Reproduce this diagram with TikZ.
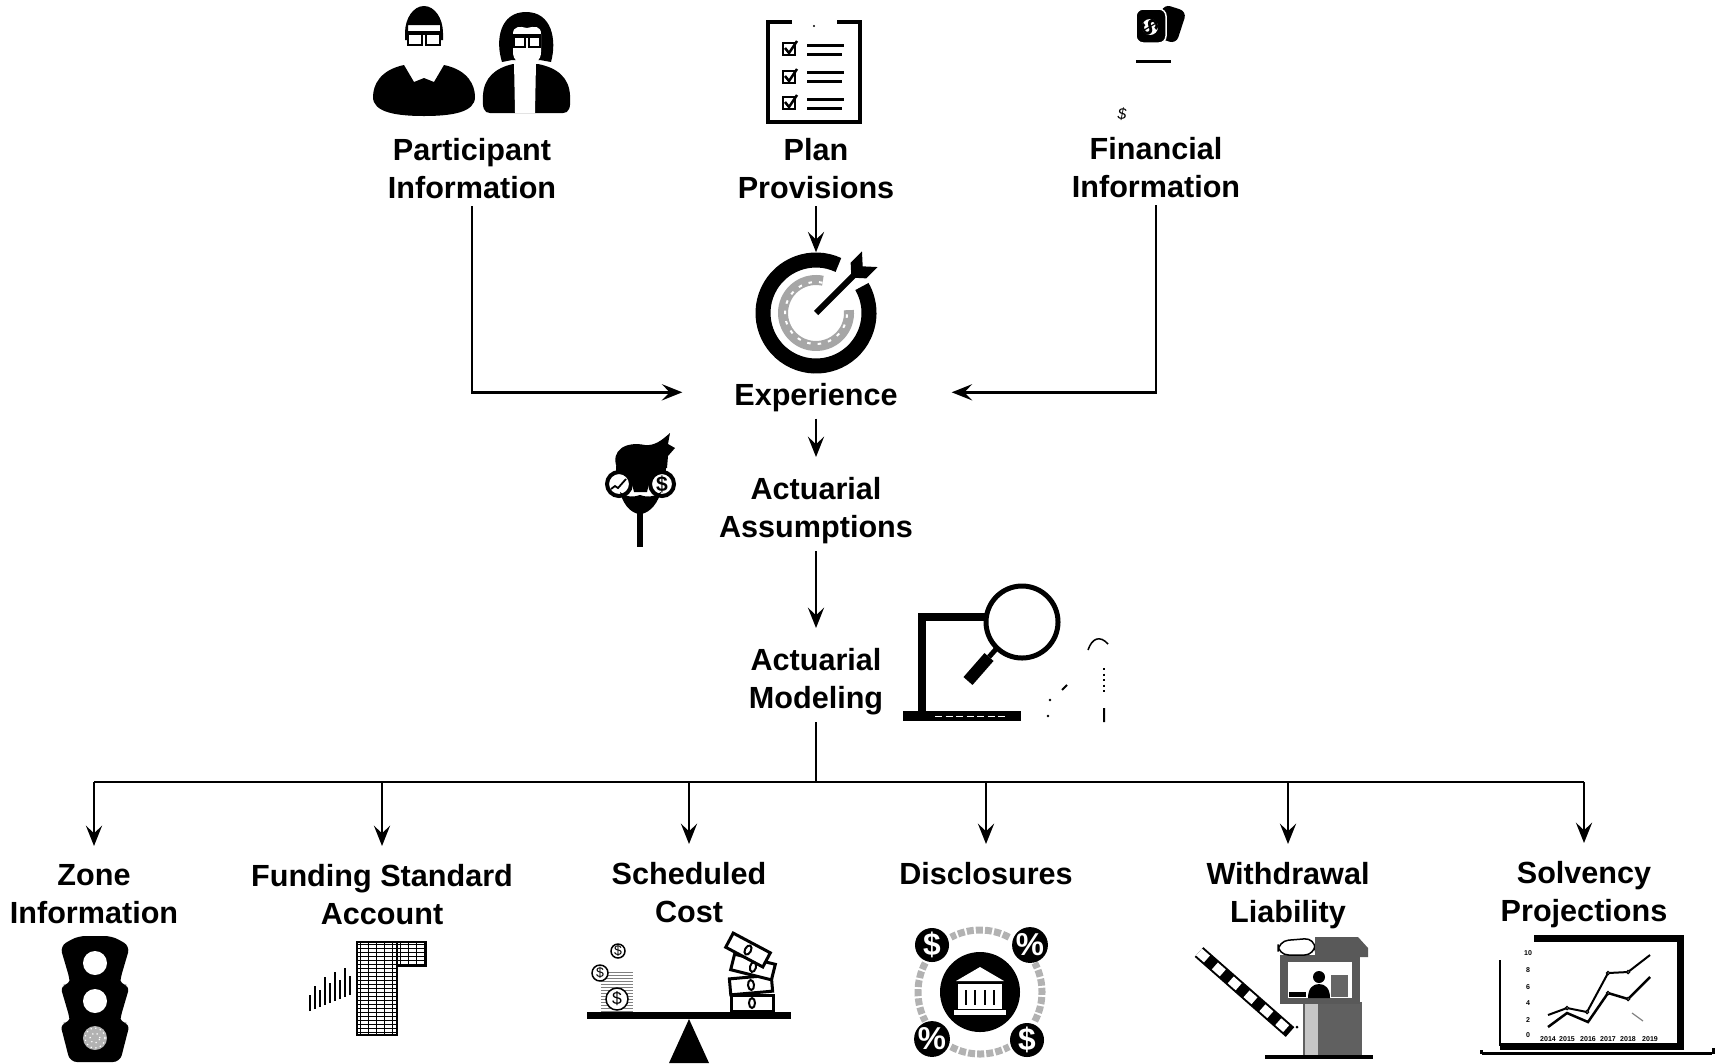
\documentclass[tikz,border=0pt]{standalone}
\usepackage{fontspec}
\setmainfont{Liberation Sans}
\usetikzlibrary{positioning, arrows.meta}

\tikzset{
    lbl/.style={font=\fontsize{8.7pt}{11pt}\selectfont\bfseries, align=center, inner sep=0pt, outer sep=2pt, anchor=north},
    arr/.style={-{Stealth[length=5.8pt, width=4.6pt, inset=2.2pt]}, line width=0.7pt},
    link/.style={line width=0.7pt},
    badge/.style={circle, fill=black, text=white, inner sep=0pt, minimum size=0.34cm, font=\fontsize{9pt}{9pt}\selectfont\bfseries},
    tiny/.style={inner sep=0pt, font=\fontsize{2pt}{2pt}\selectfont\bfseries},
}

\begin{document}
\begin{tikzpicture}[x=0.01cm, y=0.01cm]
    \useasboundingbox (0,0) rectangle (1722,-1063);

    %Labels
    \node[lbl] (part) at (472,-131) {Participant\\Information};
    \node[lbl] (plan) at (816,-131) {Plan\\Provisions};
    \node[lbl] (fin) at (1156,-130) {Financial\\Information};
    \node[lbl] (exper) at (816,-376) {Experience};
    \node[lbl] (assum) at (816,-470) {Actuarial\\Assumptions};
    \node[lbl] (model) at (816,-641) {Actuarial\\Modeling};
    \node[lbl] (zone) at (94,-857) {Zone\\Information};
    \node[lbl] (fsa) at (382,-857) {Funding Standard\\Account};
    \node[lbl] (sched) at (689,-855) {Scheduled\\Cost};
    \node[lbl] (discl) at (986,-855) {Disclosures};
    \node[lbl] (withd) at (1288,-855) {Withdrawal\\Liability};
    \node[lbl] (solv) at (1584,-854) {Solvency\\Projections};

    %Target
    \node[circle, minimum size=1.2cm, inner sep=0pt] (target) at (816,-313) {};
    \draw[line width=0.15cm] (target.center) ++(65:53) arc[start angle=65, end angle=390, radius=53];
    \draw[gray!70, line width=0.1cm] (target.center) ++(78:33) arc[start angle=78, end angle=365, radius=33];
    \draw[white, line width=0.02cm, dash pattern=on 1pt off 2pt] (target.center) ++(78:31) arc[start angle=78, end angle=365, radius=31];
    \begin{scope}[shift={(816,-313)}, rotate=45]
        \draw[line width=0.06cm] (0,0) -- (58,0);
        \fill (50,0) -- (60,11) -- (76,11) -- (66,0) -- (76,-11) -- (60,-11) -- cycle;
    \end{scope}

    %Inputs into experience
    \draw[arr] (plan.south) -- (target.north);
    \draw[arr, shorten >=0.45cm] (part.south) |- ([yshift=0.05cm]exper.west);
    \draw[arr, shorten >=0.47cm] (fin.south) |- ([yshift=0.05cm]exper.east);

    %Main chain
    \draw[arr, shorten >=0.13cm] (exper.south) -- (assum.north);
    \draw[arr, shorten >=0.13cm] (assum.south) -- (model.north);

    %Outputs
    \coordinate (split) at (816,-782);
    \draw[link] (model.south) -- (split);
    \draw[link] (zone |- split) -- (solv |- split);
    \draw[arr, shorten >=0.11cm] (zone |- split) -- (zone.north);
    \draw[arr, shorten >=0.11cm] (fsa |- split) -- (fsa.north);
    \draw[arr, shorten >=0.11cm] (sched |- split) -- (sched.north);
    \draw[arr, shorten >=0.11cm] (discl |- split) -- (discl.north);
    \draw[arr, shorten >=0.11cm] (withd |- split) -- (withd.north);
    \draw[arr, shorten >=0.11cm] (solv |- split) -- (solv.north);

    %People
    \fill (405,-33) arc[start angle=180, end angle=0, x radius=19, y radius=27] -- (443,-40) -- (440,-40) -- (440,-25) -- (408,-25) -- (408,-40) -- (405,-40) -- cycle;
    \draw[line width=0.025cm] (408,-33) rectangle (422,-45) (426,-33) rectangle (440,-45);
    \draw[line width=0.04cm] (406,-33) -- (442,-33);
    \fill (404,-65) .. controls (380,-70) and (373,-85) .. (373,-97) .. controls (373,-112) and (395,-116) .. (424,-116)
        .. controls (453,-116) and (475,-112) .. (475,-97) .. controls (475,-85) and (468,-70) .. (444,-65)
        -- (434,-82) -- (424,-78) -- (414,-82) -- cycle;
    \fill (502,-62) .. controls (495,-40) and (500,-12) .. (526,-12) .. controls (552,-12) and (557,-40) .. (551,-62) -- (540,-60) -- (512,-60) -- cycle;
    \fill[white] (513,-34) .. controls (513,-26) and (520,-26) .. (527,-28) .. controls (535,-26) and (541,-26) .. (541,-34)
        -- (541,-52) .. controls (541,-60) and (535,-66) .. (527,-66) .. controls (519,-66) and (513,-60) .. (513,-52) -- cycle;
    \draw[line width=0.025cm] (514,-36) rectangle (525,-47) (529,-36) rectangle (540,-47);
    \draw[line width=0.04cm] (513,-36) -- (541,-36);
    \fill (513,-64) .. controls (495,-68) and (484,-78) .. (483,-95) .. controls (482,-108) and (484,-113) .. (490,-113)
        -- (563,-113) .. controls (569,-113) and (571,-108) .. (570,-95) .. controls (569,-78) and (558,-68) .. (538,-64) -- cycle;
    \fill[white] (514,-62) -- (536,-62) -- (535,-113) -- (515,-113) -- cycle;

    %Clipboard
    \draw[line width=0.045cm] (792,-22) -- (768,-22) -- (768,-122) -- (860,-122) -- (860,-22) -- (837,-22);
    \fill (814,-26) circle (1.2);
    \draw[line width=0.02cm] (783,-43) rectangle (795,-55) (783,-71) rectangle (795,-83) (783,-97) rectangle (795,-109);
    \draw[line width=0.025cm] (785,-48) -- (789,-53) -- (797,-41) (785,-76) -- (789,-81) -- (797,-69) (785,-102) -- (789,-107) -- (797,-95);
    \draw[line width=0.03cm] (807,-45) -- (844,-45) (807,-54) -- (842,-54) (807,-72) -- (844,-72) (807,-81) -- (842,-81) (807,-99) -- (844,-99) (807,-108) -- (842,-108);

    %Money
    \fill[rotate around={-18:(1170,-24)}, rounded corners=2] (1158,-7) rectangle (1182,-41);
    \draw[white, line width=0.015cm, fill=black, rounded corners=2] (1136,-9) rectangle (1166,-43);
    \fill[white] (1150,-27) circle (8);
    \node[font=\fontsize{7pt}{7pt}\selectfont\bfseries, rotate=-60, inner sep=0pt] (bill) at (1150,-27) {\$};
    \draw[line width=0.03cm] (1136,-61) -- (1171,-61);
    \node[font=\fontsize{4.5pt}{4.5pt}\selectfont\itshape, inner sep=0pt] (cent) at (1122,-114) {\$};

    %Actuary
    \fill (617,-468) .. controls (610,-450) and (626,-441) .. (645,-445) .. controls (655,-446) and (662,-440) .. (670,-433)
        -- (668,-444) -- (675,-448) -- (668,-456) -- (667,-468) -- cycle;
    \fill (616,-466) rectangle (666,-478);
    \fill (630,-475) -- (651,-475) -- (647,-492) -- (634,-492) -- cycle;
    \draw[line width=0.04cm, fill=white] (619,-484) circle (12) (662,-484) circle (12);
    \draw[line width=0.018cm] (611,-489) -- (615,-486) -- (618,-488) -- (626,-479);
    \node[font=\fontsize{6pt}{6pt}\selectfont\bfseries, inner sep=0pt] (usd) at (662,-484) {\$};
    \fill (620,-492) .. controls (624,-508) and (634,-514) .. (640,-514) .. controls (646,-514) and (656,-508) .. (661,-492)
        .. controls (652,-498) and (646,-497) .. (640,-495) .. controls (634,-497) and (628,-498) .. (620,-492) -- cycle;
    \draw[line width=0.055cm] (640,-512) -- (640,-547);

    %Laptop and magnifier
    \draw[line width=0.08cm] (922,-712) -- (922,-617) -- (990,-617);
    \fill (903,-711) rectangle (1021,-721);
    \draw[white, line width=0.01cm, dash pattern=on 2pt off 1pt] (935,-716) -- (1005,-716);
    \draw[line width=0.05cm, fill=white] (1022,-622) circle (36);
    \draw[line width=0.05cm] (997,-648) -- (989,-657);
    \draw[line width=0.12cm] (989,-657) -- (968,-681);
    \draw[line width=0.015cm] (1088,-650) .. controls (1092,-638) and (1100,-635) .. (1108,-644);
    \draw[line width=0.02cm, densely dotted] (1104,-668) -- (1104,-695);
    \draw[line width=0.02cm] (1104,-708) -- (1104,-722) (1062,-690) -- (1067,-685);
    \fill (1050,-700) circle (1.3) (1048,-716) circle (1.3);

    %Traffic light
    \fill[rounded corners=2] (78,-936) -- (112,-936) -- (130,-946) -- (120,-980) -- (120,-985) -- (130,-985) -- (120,-1019)
        -- (120,-1023) -- (130,-1023) -- (120,-1062) -- (70,-1062) -- (60,-1023) -- (70,-1023) -- (70,-1019)
        -- (60,-985) -- (70,-985) -- (70,-980) -- (60,-946) -- cycle;
    \fill[white] (95,-963) circle (12) (95,-1001) circle (12);
    \fill[gray!60] (95,-1038) circle (12);
    \draw[white, densely dotted, line width=0.012cm] (95,-1038) circle (10) (95,-1038) circle (5);

    %Spreadsheet
    \draw[line width=0.01cm, xstep=8, ystep=4] (357,-1035) grid (397,-942);
    \draw[line width=0.01cm, xstep=8, ystep=4] (397,-966) grid (426,-942);
    \draw[line width=0.015cm] (357,-1035) rectangle (397,-942) (397,-966) rectangle (426,-942);
    \draw[line width=0.025cm] (310,-1011) -- (310,-995) (315,-1009) -- (315,-986) (320,-1007) -- (320,-990)
        (325,-1005) -- (325,-977) (330,-1003) -- (330,-983) (335,-1001) -- (335,-972) (340,-999) -- (340,-980)
        (345,-997) -- (345,-968) (350,-995) -- (350,-976);

    %Balance
    \fill (587,-1012) rectangle (791,-1019);
    \fill (689,-1019) -- (709,-1063) -- (669,-1063) -- cycle;
    \draw[gray, line width=0.01cm, xstep=1000, ystep=3] (601,-1011) grid (633,-972);
    \draw[line width=0.015cm, fill=white] (617,-999) circle (11) (618,-951) circle (7) (600,-973) circle (8);
    \node[font=\fontsize{5pt}{5pt}\selectfont, inner sep=0pt] (coinA) at (617,-999) {\$};
    \node[font=\fontsize{4pt}{4pt}\selectfont, inner sep=0pt] (coinB) at (618,-951) {\$};
    \node[font=\fontsize{4pt}{4pt}\selectfont, inner sep=0pt] (coinC) at (600,-973) {\$};
    \foreach \bx/\by/\ba in {752/-1003/0, 751/-985/5, 753/-967/-14, 748/-950/-28} {
        \draw[line width=0.03cm, fill=white, rotate around={\ba:(\bx,\by)}] (\bx-21,\by-8) rectangle (\bx+21,\by+8);
        \draw[line width=0.02cm, rotate around={\ba:(\bx,\by)}] (\bx,\by) ellipse[x radius=3, y radius=5];
    }

    %Bank
    \fill (980,-992) circle (40);
    \fill[white] (956,-981) -- (980,-967) -- (1004,-981) -- cycle;
    \fill[white] (958,-984) rectangle (1002,-1009);
    \fill[white] (954,-1010) rectangle (1006,-1015);
    \draw[line width=0.025cm] (966,-990) -- (966,-1005) (975,-990) -- (975,-1005) (985,-990) -- (985,-1005) (994,-990) -- (994,-1005);
    \draw[gray!60, line width=0.07cm, dash pattern=on 2pt off 0.6pt] (980,-992) ++(62:62) arc[start angle=62, end angle=118, radius=62];
    \draw[gray!60, line width=0.07cm, dash pattern=on 2pt off 0.6pt] (980,-992) ++(152:62) arc[start angle=152, end angle=208, radius=62];
    \draw[gray!60, line width=0.07cm, dash pattern=on 2pt off 0.6pt] (980,-992) ++(242:62) arc[start angle=242, end angle=298, radius=62];
    \draw[gray!60, line width=0.07cm, dash pattern=on 2pt off 0.6pt] (980,-992) ++(-28:62) arc[start angle=-28, end angle=28, radius=62];
    \node[badge] (dolA) at (932,-945) {\$};
    \node[badge] (pctA) at (1030,-945) {\%};
    \node[badge] (pctB) at (932,-1039) {\%};
    \node[badge] (dolB) at (1027,-1040) {\$};

    %Toll booth
    \draw[line width=0.13cm] (1199,-952) -- (1290,-1032);
    \draw[white, line width=0.09cm, dash pattern=on 3pt off 3pt] (1199,-952) -- (1290,-1032);
    \fill (1297,-1027) circle (1.5);
    \fill[gray!75!black] (1303,-1002) rectangle (1362,-1057);
    \fill[gray!45] (1305,-1004) rectangle (1318,-1055);
    \fill[gray!70!black] (1280,-955) rectangle (1360,-1004);
    \fill[white] (1288,-962) rectangle (1352,-998);
    \fill (1319,-977) circle (6);
    \fill (1308,-998) .. controls (1308,-988) and (1313,-984) .. (1319,-984) .. controls (1325,-984) and (1330,-988) .. (1330,-998) -- cycle;
    \fill[gray!80!black] (1331,-975) rectangle (1348,-997);
    \fill (1289,-992) rectangle (1306,-997);
    \draw[line width=0.015cm, fill=white, rounded corners=3] (1278,-955) -- (1278,-941) -- (1315,-938) -- (1315,-955) -- cycle;
    \fill[gray!70!black] (1315,-937) -- (1358,-937) -- (1368,-948) -- (1368,-957) -- (1315,-957) -- cycle;
    \draw[line width=0.04cm] (1265,-1057) -- (1373,-1057);

    %Chart laptop
    \draw[line width=0.07cm] (1534,-938) -- (1680,-938) -- (1680,-1046) -- (1500,-1046);
    \draw[line width=0.015cm] (1500,-960) -- (1500,-1046);
    \draw[line width=0.03cm] (1482,-1053) -- (1712,-1053) (1713,-1048) -- (1713,-1054) (1481,-1050) -- (1481,-1054);
    \draw[line width=0.02cm] (1548,-1015) -- (1567,-1008) -- (1587,-1012) -- (1608,-973) -- (1628,-972) -- (1650,-955);
    \draw[line width=0.025cm] (1548,-1027) -- (1567,-1013) -- (1588,-1022) -- (1608,-993) -- (1628,-999) -- (1650,-977);
    \draw[line width=0.012cm, fill=white] (1567,-1008) circle (1.6) (1587,-1012) circle (1.6) (1608,-973) circle (1.6)
        (1628,-972) circle (1.6) (1608,-993) circle (1.6) (1628,-999) circle (1.6);
    \draw[gray, line width=0.012cm] (1632,-1013) -- (1643,-1021);
    \foreach \v/\yy in {10/953, 8/970, 6/987, 4/1003, 2/1020, 0/1035}
        \node[tiny] (ax\v) at (1528,-\yy) {\v};
    \foreach \yr/\xx in {2014/1548, 2015/1567, 2016/1588, 2017/1608, 2018/1628, 2019/1650}
        \node[tiny] (yr\yr) at (\xx,-1039) {\yr};

\end{tikzpicture}
\end{document}
